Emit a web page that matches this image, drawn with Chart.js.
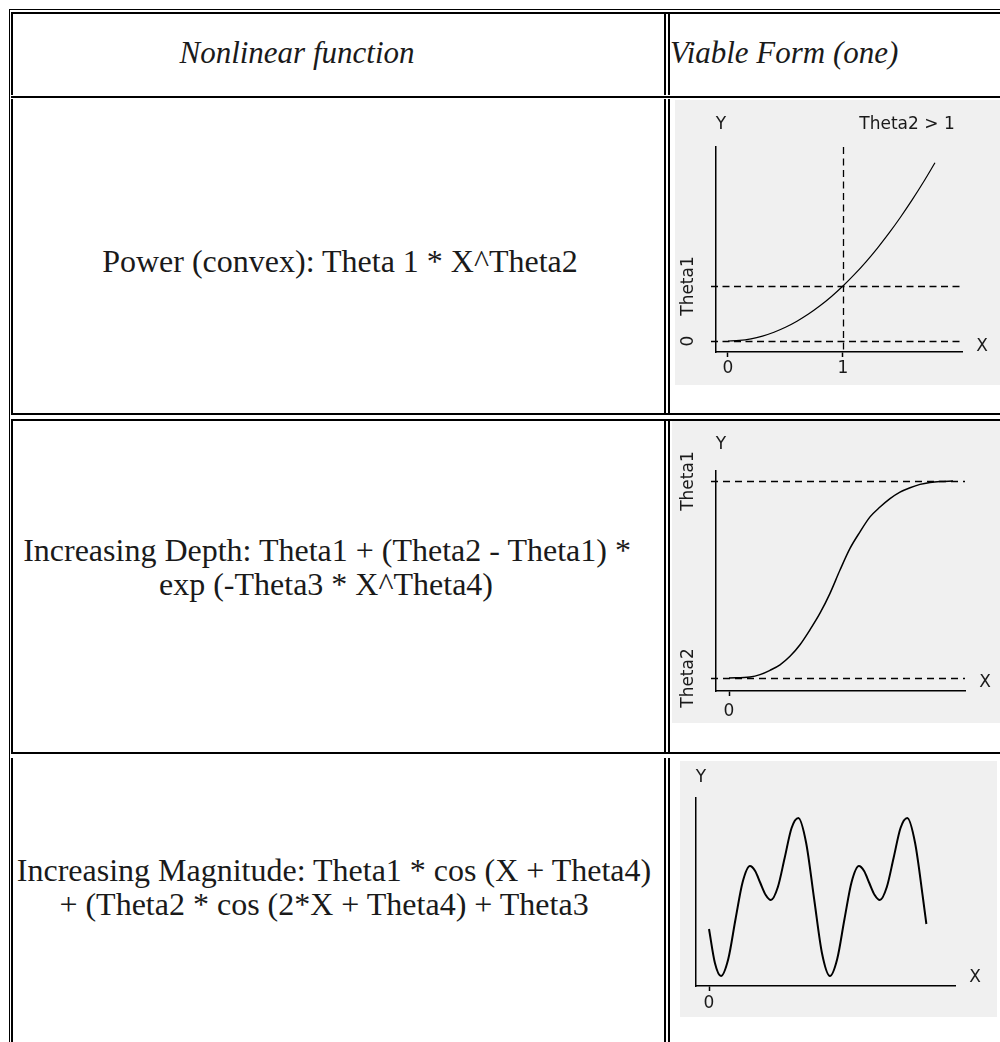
<!DOCTYPE html>
<html lang="en">
<head>
<meta charset="UTF-8">
<title>Nonlinear functions - viable forms</title>
<script src="https://cdn.jsdelivr.net/npm/chart.js"></script>
<style>
  body { margin: 0; width: 1000px; height: 1042px; overflow: hidden; background: #fff; position: relative;
         font-family: "Liberation Serif", "Times New Roman", serif; }
  .ln { position: absolute; background: #000; }
  .txt { position: absolute; font-size: 32px; color: #1a1a1a; white-space: nowrap; transform: translate(-50%, -50%); }
  .esq { transform: translate(0, -50%); }
  .it { font-style: italic; font-size: 31px; }
  .caixa { position: absolute; background: #f0f0f0; overflow: hidden; }
</style>
</head>
<body>
  <!-- bordas da tabela -->
  <div class="ln" style="left:9px;top:9px;width:1px;height:1033px"></div>
  <div class="ln" style="left:9px;top:9px;width:991px;height:1px"></div>
  <div class="ln" style="left:11px;top:12px;width:989px;height:2px"></div>
  <div class="ln" style="left:11px;top:96px;width:989px;height:2px"></div>
  <div class="ln" style="left:11px;top:413px;width:989px;height:2px"></div>
  <div class="ln" style="left:11px;top:419px;width:989px;height:2px"></div>
  <div class="ln" style="left:11px;top:752px;width:989px;height:2px"></div>
  <div id="verticais"></div>

  <div class="txt it" style="left:297px;top:53px">Nonlinear function</div>
  <div class="txt it esq" style="left:670px;top:53px">Viable Form (one)</div>
  <div class="txt" style="left:340px;top:261px">Power (convex): Theta 1 * X^Theta2</div>
  <div class="txt" style="left:327px;top:550px">Increasing Depth: Theta1 + (Theta2 - Theta1) *</div>
  <div class="txt" style="left:326px;top:584px">exp (-Theta3 * X^Theta4)</div>
  <div class="txt" style="left:334px;top:870px">Increasing Magnitude: Theta1 * cos (X + Theta4)</div>
  <div class="txt" style="left:324px;top:904px">+ (Theta2 * cos (2*X + Theta4) + Theta3</div>

  <div class="caixa" style="left:675px;top:100px;width:325px;height:285px">
    <canvas id="grafPower" width="325" height="285"></canvas>
  </div>
  <div class="caixa" style="left:672px;top:421px;width:328px;height:302px">
    <canvas id="grafDepth" width="328" height="302"></canvas>
  </div>
  <div class="caixa" style="left:680px;top:761px;width:317px;height:256px">
    <canvas id="grafMagnitude" width="317" height="256"></canvas>
  </div>

  <script>
    // Power (convex): Theta1 * X^Theta2, Theta1 = 1, Theta2 > 1
    const powerX = [0, 0.1, 0.2, 0.3, 0.4, 0.5, 0.6, 0.7, 0.8, 0.9, 1.0, 1.1, 1.2, 1.3, 1.4, 1.5, 1.6, 1.7, 1.8];
    const powerY = [0, 0.01, 0.04, 0.09, 0.16, 0.25, 0.36, 0.49, 0.64, 0.81, 1.0, 1.21, 1.44, 1.69, 1.96, 2.25, 2.56, 2.89, 3.24];
    const powerXTicks = [0, 1];
    const powerYMarks = [0, 1];
    const powerYLabels = ['0', 'Theta1'];
    const powerXMarks = [1];

    // Increasing Depth (Theta2 = 0, Theta1 = 1)
    const depthX = [0, 2.1, 3.1, 4.1, 5.1, 6.1, 7.1, 8.1, 9.1, 10.1, 11.1, 12.1, 13.1, 14.1, 15.1, 16.1, 17.1, 18.1, 19.1, 20.1, 21.1, 22.4];
    const depthY = [0, 0.005, 0.017, 0.039, 0.067, 0.11, 0.169, 0.245, 0.329, 0.43, 0.548, 0.658, 0.742, 0.818, 0.868, 0.911, 0.944, 0.966, 0.983, 0.993, 0.998, 1];
    const depthXTicks = [0];
    const depthYMarks = [1, 0];
    const depthYLabels = ['Theta1', 'Theta2'];

    // Increasing Magnitude
    const magX = [0, 0.34, 0.69, 1.11, 1.53, 1.94, 2.36, 2.66, 2.96, 3.27, 3.57, 3.97, 4.36, 4.76, 5.15, 5.60, 6.06, 6.51,
                  6.97, 7.39, 7.81, 8.22, 8.64, 8.94, 9.24, 9.55, 9.85, 10.25, 10.64, 11.04, 11.43, 11.88, 12.34, 12.53];
    const magY = [57, 23, 10, 27, 67, 104, 120, 115, 103, 91, 86, 99, 128, 158, 168, 143, 87, 33,
                  10, 27, 67, 104, 120, 115, 103, 91, 86, 99, 128, 158, 168, 143, 87, 62];
    const magXTicks = [0];

    const fonteEixo = { family: 'DejaVu Sans', size: 17 };
    const corTexto = '#1a1a1a';

    // segmentos verticais das celulas
    const linhasX = [[11, 2], [664, 2], [668, 2]];
    const faixasY = [[12, 95], [99, 415], [421, 754], [758, 1042]];
    let htmlV = '';
    for (let i = 0; i < linhasX.length; i++) {
      for (let j = 0; j < faixasY.length; j++) {
        htmlV += `<div class="ln" style="left:${linhasX[i][0]}px;top:${faixasY[j][0]}px;width:${linhasX[i][1]}px;height:${faixasY[j][1] - faixasY[j][0]}px"></div>`;
      }
    }
    document.getElementById('verticais').innerHTML = htmlV;

    // linhas tracejadas e textos desenhados com as escalas do chart
    const extrasPlugin = {
      id: 'extras',
      beforeDatasetsDraw(chart) {
        const o = chart.options.plugins.extras;
        const ctx = chart.ctx;
        const a = chart.chartArea;
        ctx.save();
        ctx.strokeStyle = '#000';
        ctx.lineWidth = 1.3;
        ctx.setLineDash(o.dash);
        (o.hLines || []).forEach(v => {
          const y = Math.round(chart.scales.y.getPixelForValue(v)) + 0.5;
          ctx.beginPath();
          ctx.moveTo(a.left - 5, y);
          ctx.lineTo(a.right, y);
          ctx.stroke();
        });
        (o.vLines || []).forEach(v => {
          const x = Math.round(chart.scales.x.getPixelForValue(v)) + 0.5;
          ctx.beginPath();
          ctx.moveTo(x, a.top);
          ctx.lineTo(x, a.bottom);
          ctx.stroke();
        });
        ctx.restore();
      },
      afterDraw(chart) {
        const o = chart.options.plugins.extras;
        const ctx = chart.ctx;
        const a = chart.chartArea;
        ctx.save();
        ctx.fillStyle = corTexto;
        ctx.font = '17px "DejaVu Sans"';
        ctx.textAlign = 'center';
        ctx.textBaseline = 'middle';
        ctx.fillText('Y', a.left + 5, a.top - o.yNameGap);
        ctx.fillText('X', a.right + 20, a.bottom - o.xNameGap);
        if (o.note) ctx.fillText(o.note, a.right - 55, a.top - o.yNameGap);
        (o.yLabels || []).forEach((t, i) => {
          const y = chart.scales.y.getPixelForValue(o.hLines[i]);
          ctx.save();
          ctx.translate(a.left - 27, y);
          ctx.rotate(-Math.PI / 2);
          ctx.fillText(t, 0, 0);
          ctx.restore();
        });
        ctx.restore();
      }
    };

    function montarGrafico(id, xs, ys, lim, xTicks, largura, extras, pad, tickPad) {
      const pontos = xs.map((x, i) => ({ x: x, y: ys[i] }));
      const altX = pad.bottom;
      return new Chart(document.getElementById(id), {
        type: 'line',
        data: {
          datasets: [{
            data: pontos,
            borderColor: '#000',
            borderWidth: largura,
            pointRadius: 0,
            fill: false,
            cubicInterpolationMode: 'monotone'
          }]
        },
        options: {
          responsive: false,
          animation: false,
          events: [],
          layout: { padding: { left: pad.left, top: pad.top, right: pad.right, bottom: 0 } },
          scales: {
            x: {
              type: 'linear',
              min: lim[0], max: lim[1],
              afterBuildTicks: s => { s.ticks = xTicks.map(v => ({ value: v })); },
              afterFit: s => { s.height = altX; },
              grid: { display: true, drawOnChartArea: false, color: '#000', tickLength: 5, tickWidth: 1.5 },
              border: { display: true, color: '#000', width: 1.5 },
              ticks: { font: fonteEixo, color: corTexto, padding: tickPad, maxRotation: 0, autoSkip: false }
            },
            y: {
              type: 'linear',
              min: lim[2], max: lim[3],
              afterFit: s => { s.width = 0; },
              grid: { display: false },
              border: { display: true, color: '#000', width: 1.5 },
              ticks: { display: false }
            }
          },
          plugins: {
            legend: { display: false },
            tooltip: { enabled: false },
            extras: extras
          }
        },
        plugins: [extrasPlugin]
      });
    }

    montarGrafico('grafPower', powerX, powerY, [-0.104, 2.035, -0.2, 3.527], powerXTicks, 1.2,
      { dash: [7, 4.5], hLines: powerYMarks, vLines: powerXMarks, yLabels: powerYLabels,
        note: 'Theta2 > 1', yNameGap: 22, xNameGap: 5 },
      { left: 41, top: 47, right: 38, bottom: 33 }, 1);

    montarGrafico('grafDepth', depthX, depthY, [-1.3, 23.6, -0.066, 1.051], depthXTicks, 1.5,
      { dash: [7, 5], hLines: depthYMarks, yLabels: depthYLabels, yNameGap: 26, xNameGap: 8 },
      { left: 44, top: 50, right: 35, bottom: 32 }, 5);

    montarGrafico('grafMagnitude', magX, magY, [-0.75, 14.18, 0, 188], magXTicks, 2,
      { dash: [7, 5], yNameGap: 20, xNameGap: 8 },
      { left: 16, top: 37, right: 42, bottom: 31 }, 2.5);
  </script>
</body>
</html>
